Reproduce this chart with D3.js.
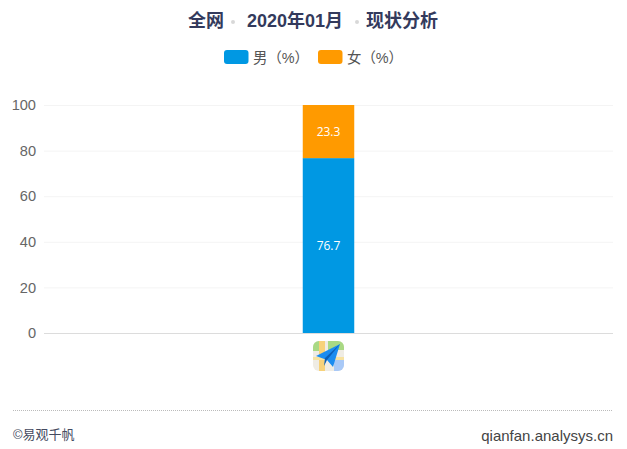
<!DOCTYPE html>
<html><head><meta charset="utf-8">
<script src="https://cdn.jsdelivr.net/npm/d3@7/dist/d3.min.js"></script>
<style>html,body{margin:0;padding:0;background:#fff}svg{display:block}</style></head>
<body><svg id="c" width="627" height="449"></svg>
<script>
const categories = ["全网 2020年01月"];
const seriesNames = ["男（%）", "女（%）"];
const maleValues = [76.7];
const femaleValues = [23.3];
const seriesColors = ["#0098e3", "#ff9a00"];
const yTicks = [0, 20, 40, 60, 80, 100];
const titleParts = ["全网", "2020年01月", "现状分析"];
const footerLeft = "©易观千帆";
const footerRight = "qianfan.analysys.cn";

const svg = d3.select("#c");
const cjk = "'Liberation Sans','Noto Sans CJK SC',sans-serif";
const latin = "'Liberation Sans',Arial,sans-serif";

const x = d3.scaleBand().domain(categories).range([44, 613]);
const y = d3.scaleLinear().domain([0, 100]).range([333, 105]);
const barW = 51.5;

// title
const titleX = [188, 247, 366];
titleParts.forEach((t, i) => svg.append("text").attr("x", titleX[i]).attr("y", 27)
  .attr("font-family", cjk).attr("font-weight", 700)
  .attr("font-size", 18).attr("fill", "#333a5c").text(t));
[233, 357].forEach(cx => svg.append("circle").attr("cx", cx).attr("cy", 22).attr("r", 2).attr("fill", "#d8d8d8"));

// legend
const legendX = [224, 318];
seriesNames.forEach((n, i) => {
  svg.append("rect").attr("x", legendX[i]).attr("y", 50).attr("width", 24.5).attr("height", 14)
    .attr("rx", 3).attr("fill", seriesColors[i]);
  svg.append("text").attr("x", legendX[i] + 29).attr("y", 63).attr("font-family", cjk)
    .attr("font-size", 14.4).attr("fill", "#555").text(n);
});

// y axis
const yAxis = d3.axisLeft(y).tickValues(yTicks).tickSize(-(613 - 44)).tickPadding(8);
const gy = svg.append("g").attr("transform", "translate(44,0)").call(yAxis);
gy.select(".domain").remove();
gy.selectAll(".tick line").attr("stroke", d => d === 0 ? "#dcdcdc" : "#f4f4f4");
gy.selectAll(".tick text").attr("font-family", latin).attr("font-size", 14.6).attr("fill", "#666");

// bars
const stacked = d3.stack().keys([0, 1]).value((d, k) => d[k])(d3.zip(maleValues, femaleValues));
stacked.forEach((layer, i) => {
  layer.forEach((d, j) => {
    const cx = x(categories[j]) + x.bandwidth() / 2;
    svg.append("rect").attr("x", cx - barW / 2).attr("width", barW)
      .attr("y", y(d[1])).attr("height", y(d[0]) - y(d[1])).attr("fill", seriesColors[i]);
    svg.append("text").attr("x", cx).attr("y", (y(d[0]) + y(d[1])) / 2 + 4.5)
      .attr("text-anchor", "middle").attr("font-family", "'Open Sans',sans-serif").attr("font-size", 12)
      .attr("fill", "#fff").text(d3.format(".1f")(d[1] - d[0]));
  });
});

// app icon
const ic = svg.append("g").attr("transform", "translate(313,341)");
const defs = svg.append("defs");
defs.append("clipPath").attr("id", "ic").append("rect").attr("width", 31).attr("height", 30).attr("rx", 6);
const ig = ic.append("g").attr("clip-path", "url(#ic)");
ig.append("rect").attr("width", 31).attr("height", 30).attr("fill", "#efece4");
ig.append("rect").attr("width", 7).attr("height", 10).attr("fill", "#a9d984");
ig.append("rect").attr("x", 15).attr("width", 16).attr("height", 9).attr("fill", "#a9d984");
ig.append("rect").attr("x", 6).attr("width", 6).attr("height", 30).attr("fill", "#f7d27a");
ig.append("rect").attr("y", 16).attr("width", 31).attr("height", 3).attr("fill", "#f7e2a0");
ig.append("rect").attr("x", 21).attr("y", 19).attr("width", 10).attr("height", 11).attr("fill", "#a9c9f7");
ig.append("path").attr("d", "M3 15 L27 3 L20 26 L14 19 Z").attr("fill", "#1a8cf0");
ig.append("path").attr("d", "M14 19 L27 3 L12 17 L11 25 Z").attr("fill", "#0b5fb8");

// footer
svg.append("line").attr("x1", 13).attr("x2", 613).attr("y1", 410.5).attr("y2", 410.5)
  .attr("stroke", "#bbb").attr("stroke-dasharray", "1 1");
svg.append("text").attr("x", 13).attr("y", 439).attr("font-family", cjk).attr("font-size", 13)
  .attr("fill", "#444a60").text(footerLeft);
svg.append("text").attr("x", 613).attr("y", 441).attr("text-anchor", "end").attr("font-family", latin)
  .attr("font-size", 15).attr("fill", "#444").text(footerRight);
</script></body></html>
